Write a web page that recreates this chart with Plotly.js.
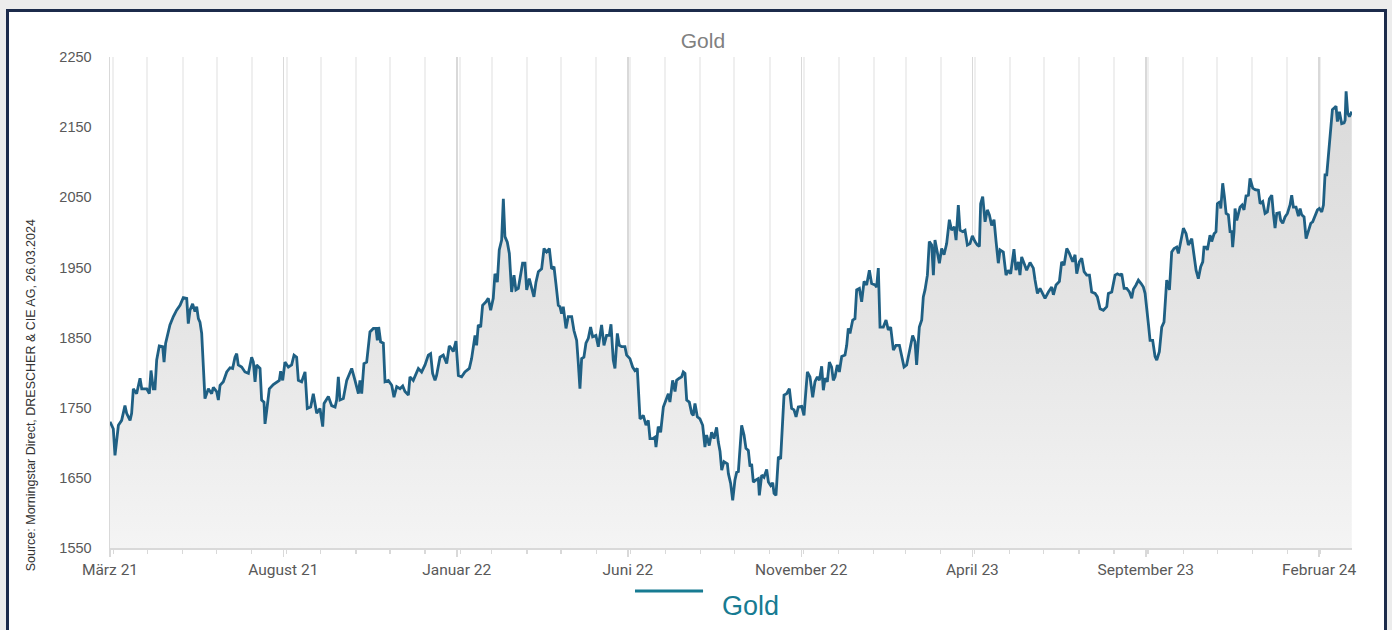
<!DOCTYPE html>
<html>
<head>
<meta charset="utf-8">
<script src="https://cdn.plot.ly/plotly-3.0.1.min.js"></script>
<style>
  html, body { margin:0; padding:0; width:1392px; height:630px; overflow:hidden; background:#ececec; }
  #frame { position:absolute; left:6px; top:9px; width:1375px; height:700px; border:3.5px solid #1c2b4b; background:#ffffff; }
  #chart { position:absolute; left:0; top:0; width:1392px; height:630px; }
</style>
</head>
<body>
<div id="frame"></div>
<div id="chart"></div>
<script>
// Series start date (first observation) and days elapsed since then for each reading
const seriesStart = '2021-03-26';
const dayOffsets = [
0.0,2.9,4.4,7.4,10.3,11.8,13.2,14.7,17.7,19.1,20.6,23.5,26.5,28.0,32.4,34.7,36.2,38.2,39.7,41.2,43.5,46.5,47.7,49.1,52.9,55.9,58.8,61.8,64.7,67.7,69.1,70.6,72.9,75.0,76.5,78.0,79.4,80.9,82.4,83.8,86.8,89.7,91.2,94.1,95.6,97.1,100.0,103.0,105.9,108.2,110.3,111.8,113.2,116.2,119.1,122.1,125.0,126.5,128.0,129.4,132.4,133.8,135.9,136.8,138.3,140.6,144.1,147.1,149.4,150.6,152.4,154.4,157.4,160.3,162.4,164.7,166.2,169.1,172.1,174.1,177.1,179.4,182.4,185.3,187.7,188.9,192.7,195.6,198.6,200.0,201.5,203.0,205.9,208.9,211.8,213.3,216.2,219.2,220.6,222.1,224.1,226.5,229.4,232.4,234.7,235.9,237.1,238.8,241.2,242.7,245.6,248.6,250.6,253.0,255.9,258.3,260.3,263.3,
264.7,267.6,272.1,275.0,278.0,280.9,282.9,284.7,286.8,288.2,291.2,294.1,297.1,299.4,301.5,302.9,305.3,307.4,310.3,313.2,317.1,319.1,322.1,323.5,325.0,327.1,328.8,331.8,333.8,335.9,338.2,339.7,341.8,343.5,345.6,347.1,348.5,350.6,352.4,354.4,356.5,358.2,360.3,361.8,364.1,366.2,367.7,370.0,372.1,374.1,375.9,378.0,380.9,383.0,385.3,387.7,389.7,391.8,393.5,395.6,397.1,398.5,400.0,402.4,404.4,407.4,409.4,411.8,413.2,414.7,416.2,418.2,420.0,422.1,424.1,425.9,428.8,430.9,433.8,435.9,438.2,440.6,442.1,444.1,445.6,447.7,449.4,451.5,454.4,455.9,458.8,461.2,463.2,465.3,467.7,470.6,473.0,475.0,476.5,478.8,480.9,481.8,483.8,485.9,488.3,490.6,492.7,494.1,496.5,498.6,500.0,502.4,504.4,505.9,507.4,508.9,511.2,513.3,514.7,516.2,518.3,520.6,523.0,525.0,526.5,528.8,530.9,533.0,535.3,536.8,
538.3,539.8,541.8,544.8,545.7,547.7,549.5,551.5,553.0,554.5,557.4,559.5,561.2,563.3,564.8,566.2,567.7,570.1,572.1,573.0,575.1,577.1,579.5,581.0,583.0,584.8,586.0,587.7,589.8,591.8,592.7,594.8,597.1,599.5,601.5,603.6,605.4,607.4,610.4,612.4,615.4,617.7,620.1,622.1,624.2,626.0,628.0,629.5,631.0,633.0,634.8,636.8,638.3,639.8,641.8,643.6,645.7,648.6,650.1,651.5,653.0,655.4,657.4,658.9,661.3,663.3,665.4,667.7,670.1,672.1,675.1,676.5,678.0,679.5,682.4,684.8,686.8,688.9,691.3,693.6,696.6,698.6,700.7,703.0,705.4,708.3,710.4,711.8,714.2,716.3,717.7,719.2,721.3,723.0,725.1,726.6,728.0,729.5,731.9,733.9,736.0,738.3,740.7,742.7,745.1,746.6,748.6,750.1,752.4,754.5,756.6,758.9,761.0,763.3,765.4,767.2,768.3,770.1,772.2,774.2,776.0,778.0,780.1,781.9,783.9,785.4,788.3,790.7,792.7,794.8,797.7,799.5,801.6,803.0,804.5,806.6,808.9,
811.9,814.8,816.3,818.4,820.7,823.1,825.1,828.1,831.0,832.5,834.8,837.8,839.8,841.9,844.3,846.6,849.6,851.6,853.1,855.4,857.5,859.6,861.9,864.3,866.3,869.3,871.3,873.7,876.6,879.6,881.0,884.0,886.9,889.0,891.3,892.8,894.9,897.2,899.6,901.6,903.1,905.4,907.5,909.9,911.9,913.4,914.9,916.3,917.8,920.1,922.2,923.7,926.0,928.1,930.1,932.5,934.9,936.9,939.0,941.3,942.8,944.9,947.2,949.6,951.6,954.6,956.6,958.4,960.4,962.5,964.3,965.4,967.2,968.4,970.7,972.2,974.3,976.0,977.2,979.6,980.2,981.9,983.4,984.9,986.9,988.4,989.9,990.7,991.9,992.8,994.3,997.2,999.0,1000.7,1002.5,1004.6,1006.0,1008.4,1010.5,1013.4,1014.9,1017.2,1019.3,1021.3,1023.1,1025.2,1026.6,1028.1,1029.6,1031.9,1033.1,1034.9,1036.9,1039.0,1041.3,1042.8,1044.3,1046.6,1048.7,1050.2,1051.6,1053.7,1055.5,1057.5,1059.6,1061.3,1063.4,1065.5,1067.2,1069.3,1070.8,1072.2,1073.7,1075.2,1076.6,1078.7,1080.2,1081.9,1083.1,1084.9,1086.9,1089.0,1089.9,1090.8,1092.2,1093.7,1095.8
];
// Gold price (USD)
const goldValues = [
1730,1720,1682,1725,1732,1742,1753,1742,1732,1742,1777,1770,1792,1777,1777,1770,1803,1777,1777,1818,1838,1837,1815,1842,1868,1880,1889,1896,1907,1906,1870,1889,1898,1887,1894,1877,1872,1856,1808,1763,1777,1770,1779,1773,1761,1782,1787,1801,1807,1806,1822,1827,1811,1808,1801,1799,1822,1815,1787,1811,1806,1761,1758,1727,1746,1777,1783,1787,1789,1802,1789,1815,1808,1811,1825,1822,1789,1787,1801,1749,1751,1770,1742,1749,1723,1756,1766,1753,1751,1761,1794,1761,1763,1789,1801,1806,1789,1770,1789,1770,1813,1815,1858,1863,1863,1846,1865,1844,1842,1787,1789,1782,1765,1780,1777,1781,1773,1768,
1794,1789,1806,1801,1811,1825,1827,1799,1789,1796,1822,1825,1813,1838,1834,1830,1845,1796,1794,1801,1806,1820,1853,1839,1868,1865,1896,1901,1906,1889,1906,1941,1929,1975,1989,2048,1994,1986,1970,1915,1939,1918,1920,1934,1956,1956,1918,1934,1922,1908,1929,1944,1948,1977,1972,1977,1948,1951,1927,1896,1894,1884,1894,1863,1880,1880,1860,1846,1815,1777,1820,1822,1842,1849,1865,1851,1853,1837,1868,1839,1853,1853,1869,1818,1806,1856,1839,1837,1837,1825,1820,1808,1803,1806,1734,1739,1725,1732,1706,1706,1708,1694,1723,1715,1751,1761,1770,1758,1789,1773,1789,1792,1794,1801,1799,1761,1758,1742,1739,1756,1737,1734,1725,1694,1711,1696,1715,1706,1722,1701,
1688,1661,1673,1670,1656,1642,1618,1647,1658,1659,1725,1711,1692,1689,1666,1670,1644,1647,1649,1625,1654,1651,1662,1644,1639,1643,1628,1625,1680,1677,1708,1768,1770,1777,1749,1747,1737,1751,1752,1739,1801,1794,1765,1787,1794,1789,1809,1775,1792,1787,1815,1808,1789,1794,1811,1801,1823,1825,1839,1863,1856,1875,1877,1918,1920,1901,1930,1925,1946,1927,1925,1922,1949,1865,1865,1875,1861,1865,1832,1839,1839,1825,1808,1811,1832,1853,1844,1811,1865,1875,1908,1918,1939,1987,1982,1939,1989,1975,1956,1977,1968,1984,2018,2003,2008,1989,2039,2003,2001,2003,1982,1984,1995,1987,1982,1980,2041,2051,2015,2032,2025,2010,2018,1987,1956,1975,1972,1939,1946,1941,1976,1946,1958,1939,1965,1956,1946,
1957,1949,1932,1913,1920,1913,1906,1915,1922,1911,1925,1930,1958,1953,1977,1970,1958,1968,1941,1958,1963,1944,1939,1939,1915,1913,1908,1891,1889,1894,1913,1915,1939,1941,1939,1941,1920,1920,1915,1906,1919,1925,1932,1927,1922,1913,1894,1870,1846,1846,1823,1818,1830,1865,1872,1932,1918,1972,1977,1979,1970,1989,2006,1998,1982,1991,1970,1946,1934,1951,1958,1979,1979,1975,1996,1987,1998,2001,2041,2044,2034,2070,2051,2027,2025,2001,2001,1979,2001,2034,2017,2036,2039,2032,2052,2053,2077,2063,2061,2060,2041,2044,2027,2029,2048,2053,2027,2006,2027,2028,2017,2013,2022,2027,2039,2053,2036,2036,2023,2034,2025,2022,1991,2003,2013,2015,2025,2032,2034,2029,2039,2082,2082,2108,2136,2175,2177,2180,2158,2172,2155,2156,2160,2201,2170,2165,2172
];
const tickDates = ['2021-03-26','2021-08-26','2022-01-26','2022-06-26','2022-11-26','2023-04-26','2023-09-26','2024-02-26'];
const tickLabels = ['März 21','August 21','Januar 22','Juni 22','November 22','April 23','September 23','Februar 24'];
const yTicks = [1550,1650,1750,1850,1950,2050,2150,2250];
const seriesName = 'Gold';
const sourceNote = 'Source: Morningstar Direct, DRESCHER &amp; CIE AG, 26.03.2024';
const xRange = ['2021-03-26','2024-03-26'];

const t0 = Date.parse(seriesStart + 'T00:00:00Z');
const dates = dayOffsets.map(d => new Date(t0 + d * 86400000).toISOString().slice(0,19).replace('T',' '));

const traces = [
  {
    x: dates, y: goldValues, type: 'scatter', mode: 'lines', name: seriesName,
    fill: 'tozeroy',
    fillgradient: { type: 'vertical', start: 1550, stop: 2150,
      colorscale: [[0,'#f4f4f4'],[0.5,'#e6e6e6'],[1,'#dcdcdc']] },
    line: { color: '#1f6084', width: 2.8 },
    showlegend: false, hoverinfo: 'skip'
  }
];

const layout = {
  width: 1392, height: 630,
  paper_bgcolor: 'rgba(0,0,0,0)', plot_bgcolor: '#ffffff',
  margin: { l: 110, r: 40, t: 57, b: 82, autoexpand: false },
  showlegend: false,
  title: { text: 'Gold', x: 0.505, xref: 'container', y: 0.935, yref: 'container', xanchor: 'center', yanchor: 'middle',
           font: { family: 'Liberation Sans, Arial, sans-serif', size: 21, color: '#808080' } },
  xaxis: {
    type: 'date', range: xRange, automargin: false,
    tickmode: 'array', tickvals: tickDates, ticktext: tickLabels, tickangle: 0,
    showgrid: true, gridcolor: '#d9d9d9', gridwidth: 1.5,
    ticks: 'outside', ticklen: 7, tickcolor: '#d9d9d9', tickwidth: 1.5,
    showline: true, linecolor: '#d9d9d9', linewidth: 1.5,
    tickfont: { family: 'Roboto, sans-serif', size: 15.5, color: '#595959' },
    minor: { tick0: '2021-03-26', dtick: 'M1', showgrid: true, gridcolor: '#efefef', gridwidth: 2,
             ticks: 'outside', ticklen: 4, tickcolor: '#d9d9d9', tickwidth: 1.2 },
    fixedrange: true
  },
  yaxis: {
    range: [1550, 2250], tickmode: 'array', tickvals: yTicks, ticktext: yTicks.map(String),
    showgrid: false, zeroline: false, showline: true, linecolor: '#d9d9d9', linewidth: 1.5,
    ticks: '', automargin: false,
    ticklabelstandoff: 14,
    tickfont: { family: 'Liberation Sans, Arial, sans-serif', size: 14.5, color: '#595959' },
    fixedrange: true
  },
  shapes: [
    { type: 'line', xref: 'paper', yref: 'paper', x0: 0.4227, x1: 0.4775, y0: -0.0876, y1: -0.0876,
      line: { color: '#177b92', width: 3 } }
  ],
  annotations: [
    { text: seriesName, xref: 'paper', yref: 'paper', x: 0.4911, y: -0.118, xanchor: 'left', yanchor: 'middle',
      showarrow: false, font: { family: 'Liberation Sans, Arial, sans-serif', size: 27, color: '#177b92' } },
    { text: sourceNote, xref: 'paper', yref: 'paper', x: -0.064, y: 0.31, textangle: -90,
      showarrow: false, xanchor: 'center', yanchor: 'middle',
      font: { family: 'Liberation Sans, Arial, sans-serif', size: 12.5, color: '#333333' } }
  ]
};

Plotly.newPlot('chart', traces, layout, { displayModeBar: false, staticPlot: true });
</script>
</body>
</html>
